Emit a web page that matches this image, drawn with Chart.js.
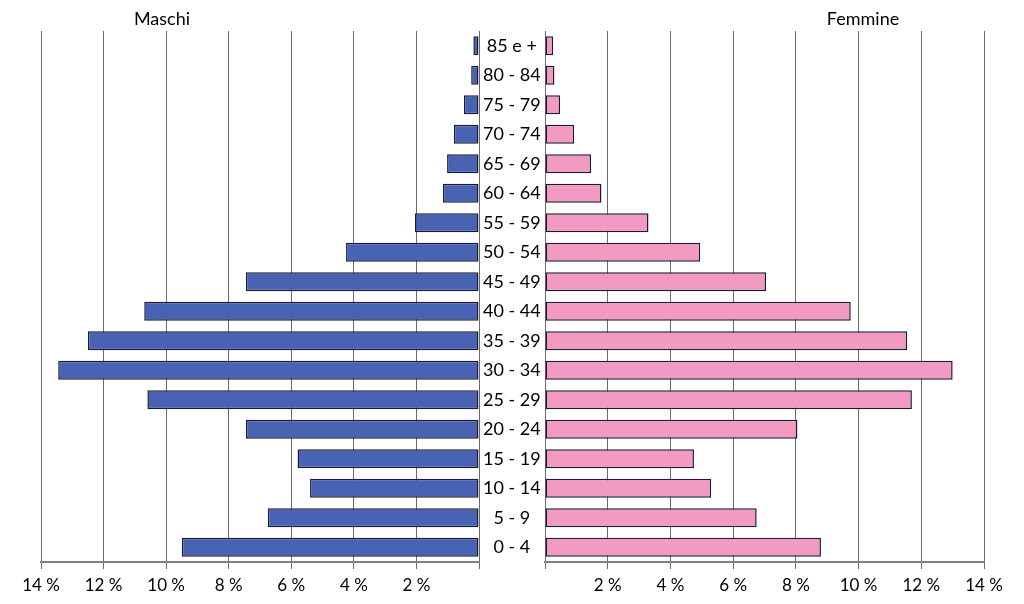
<!DOCTYPE html>
<html>
<head>
<meta charset="utf-8">
<script src="https://cdn.jsdelivr.net/npm/chart.js@4.4.0/dist/chart.umd.min.js"></script>
<style>
  body { margin: 0; background: #fff; }
  #wrap { position: relative; width: 1024px; height: 604px; font-family: Lato, sans-serif; }
  #cMaschi { position: absolute; left: 0; top: 0; }
  #cFemmine { position: absolute; left: 539px; top: 0; }
  .titolo { position: absolute; top: 7px; font-size: 18px; color: #000; transform: translateX(-50%); }
</style>
</head>
<body>
<div id="wrap">
  <canvas id="cMaschi" width="545" height="604"></canvas>
  <canvas id="cFemmine" width="485" height="604"></canvas>
  <div class="titolo" style="left:162px">Maschi</div>
  <div class="titolo" style="left:863px">Femmine</div>
</div>
<script>
// classi di età, dalla più anziana alla più giovane
const classiEta = ['85 e +', '80 - 84', '75 - 79', '70 - 74', '65 - 69', '60 - 64', '55 - 59', '50 - 54',
  '45 - 49', '40 - 44', '35 - 39', '30 - 34', '25 - 29', '20 - 24', '15 - 19', '10 - 14', '5 - 9', '0 - 4'];

// percentuali
const maschi = [0.18, 0.25, 0.48, 0.8, 1.02, 1.15, 2.05, 4.25,
  7.45, 10.7, 12.5, 13.45, 10.6, 7.45, 5.8, 5.4, 6.75, 9.5];
const femmine = [0.26, 0.3, 0.48, 0.93, 1.47, 1.8, 3.3, 4.95,
  7.05, 9.75, 11.55, 13.0, 11.7, 8.05, 4.75, 5.3, 6.75, 8.8];

const tickValori = [0, 2, 4, 6, 8, 10, 12, 14];

const fontTick = { family: 'Lato', size: 17 };

function assePercentuale(rovesciato) {
  return {
    min: 0,
    max: 14,
    reverse: rovesciato,
    afterBuildTicks: scale => { scale.ticks = tickValori.map(v => ({ value: v })); },
    afterFit: scale => { scale.height = 42; },
    ticks: {
      color: '#000',
      font: fontTick,
      padding: 6,
      maxRotation: 0,
      callback: v => v === 0 ? '' : v + ' %'
    },
    grid: { color: '#6a6a6a', lineWidth: 1, tickLength: 7, drawOnChartArea: true },
    border: { color: '#7f7f7f', width: 2 }
  };
}

function datasetBarre(label, valori, colore) {
  return {
    label: label,
    data: valori,
    backgroundColor: colore,
    borderColor: '#1b1b35',
    borderWidth: 1.5,
    borderSkipped: false,
    categoryPercentage: 1,
    barPercentage: 0.65
  };
}

new Chart(document.getElementById('cMaschi'), {
  type: 'bar',
  data: {
    labels: classiEta,
    datasets: [datasetBarre('Maschi', maschi, '#4863b3')]
  },
  options: {
    indexAxis: 'y',
    responsive: false,
    animation: false,
    layout: { padding: { left: 41, top: 31, right: 0, bottom: 0 } },
    plugins: { legend: { display: false }, tooltip: { enabled: false } },
    scales: {
      x: assePercentuale(true),
      y: {
        position: 'right',
        afterFit: scale => { scale.width = 66; },
        ticks: { color: '#000', font: { family: 'Lato', size: 18 }, crossAlign: 'center', padding: 4 },
        grid: { display: false, drawTicks: false },
        border: { display: false }
      }
    }
  }
});

new Chart(document.getElementById('cFemmine'), {
  type: 'bar',
  data: {
    labels: classiEta,
    datasets: [datasetBarre('Femmine', femmine, '#f29ac2')]
  },
  options: {
    indexAxis: 'y',
    responsive: false,
    animation: false,
    layout: { padding: { left: 0, top: 31, right: 40, bottom: 0 } },
    plugins: { legend: { display: false }, tooltip: { enabled: false } },
    scales: {
      x: assePercentuale(false),
      y: { display: false }
    }
  }
});
</script>
</body>
</html>
